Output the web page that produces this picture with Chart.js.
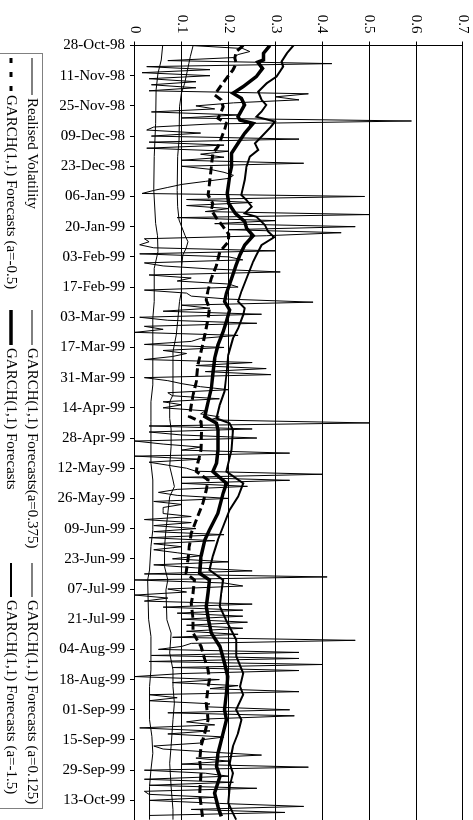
<!DOCTYPE html>
<html lang="en">
<head>
  <meta charset="UTF-8" />
  <title>Realised volatility vs GARCH(1,1) forecasts</title>
  <script src="https://cdn.jsdelivr.net/npm/chart.js"></script>
  <style>
    body { margin: 0; background: #fff; overflow: hidden; }
    #wrap { position: absolute; left: 0; top: 0; width: 820px; height: 473px;
            transform-origin: 0 0; transform: translateX(473px) rotate(90deg); }
    canvas { display: block; }
  </style>
</head>
<body>
  <div id="wrap"><canvas id="volChart" width="820" height="473" style="width:820px;height:473px"></canvas></div>

  <script>
    // date axis labels, one every 10 trading days
    const dateLabels = ['28-Oct-98','11-Nov-98','25-Nov-98','09-Dec-98','23-Dec-98','06-Jan-99','20-Jan-99',
      '03-Feb-99','17-Feb-99','03-Mar-99','17-Mar-99','31-Mar-99','14-Apr-99','28-Apr-99','12-May-99',
      '26-May-99','09-Jun-99','23-Jun-99','07-Jul-99','21-Jul-99','04-Aug-99','18-Aug-99','01-Sep-99',
      '15-Sep-99','29-Sep-99','13-Oct-99'];
    const labelDays = [0,10,20,30,40,50,60,70,80,90,100,110,120,130,140,150,160,170,180,190,200,210,220,230,240,250];
    const valueTicks = ['0','0.1','0.2','0.3','0.4','0.5','0.6','0.7'];

    // daily realised volatility (trading day 0 = 28-Oct-98)
    const realisedVol = [
      0.12,0.23,0.245,0.22,0.21,0.07,0.42,0.025,0.16,0.015,
      0.16,0.03,0.13,0.035,0.13,0.03,0.37,0.30,0.35,0.21,
      0.13,0.17,0.035,0.22,0.10,0.59,0.16,0.04,0.025,0.14,
      0.035,0.35,0.03,0.19,0.025,0.2,0.14,0.19,0.10,0.36,
      0.10,0.16,0.19,0.21,0.2,0.15,0.10,0.07,0.04,0.015,
      0.49,0.11,0.25,0.11,0.2,0.15,0.5,0.09,0.3,0.17,
      0.47,0.2,0.44,0.28,0.02,0.03,0.01,0.04,0.3,0.01,
      0.2,0.23,0.02,0.06,0.16,0.31,0.03,0.12,0.09,0.2,
      0.22,0.02,0.11,0.12,0.2,0.38,0.1,0.16,0.06,0.27,
      0.01,0.07,0.26,0.02,0.06,0.0,0.22,0.14,0.12,0.02,
      0.19,0.06,0.11,0.08,0.02,0.25,0.13,0.28,0.15,0.29,
      0.02,0.07,0.1,0.14,0.2,0.07,0.08,0.18,0.06,0.1,
      0.06,0.15,0.14,0.18,0.16,0.5,0.03,0.25,0.03,0.1,
      0.26,0.0,0.06,0.14,0.1,0.33,0.0,0.14,0.03,0.07,
      0.11,0.13,0.4,0.1,0.33,0.1,0.24,0.09,0.05,0.09,
      0.2,0.04,0.1,0.06,0.06,0.06,0.12,0.02,0.12,0.04,
      0.13,0.04,0.19,0.03,0.17,0.04,0.1,0.04,0.09,0.14,
      0.08,0.2,0.04,0.13,0.25,0.02,0.41,0.0,0.19,0.23,
      0.07,0.11,0.0,0.07,0.02,0.25,0.06,0.23,0.09,0.23,
      0.1,0.24,0.11,0.23,0.11,0.22,0.08,0.47,0.12,0.1,
      0.05,0.35,0.035,0.35,0.03,0.4,0.08,0.35,0.1,0.0,
      0.18,0.08,0.22,0.16,0.35,0.03,0.09,0.03,0.16,0.15,
      0.33,0.07,0.34,0.16,0.11,0.17,0.01,0.16,0.07,0.19,
      0.14,0.14,0.04,0.06,0.16,0.27,0.13,0.2,0.1,0.37,
      0.02,0.15,0.2,0.02,0.21,0.03,0.26,0.02,0.03,0.17,
      0.03,0.18,0.36,0.12,0.32,0.03
    ];

    // forecast series at the trading days given
    const garchDays = [0,2.6,4.8,5.5,7.6,10.3,13.6,15.8,17.5,19.7,23.6,24.7,25.8,29.1,32.4,35.7,40.1,42.3,48.9,52.3,
      55.6,58.3,60.5,63,66.1,69.4,72.7,77.1,82.1,84.8,87.6,91.4,94.8,99.2,103.6,109.1,113.5,118,122.9,125.1,127.3,
      133.9,138.3,141.1,145,148.3,154.9,160.4,163.7,169.2,174.8,177,181.4,185.8,190.2,194.6,199,204.5,209,214.5,220,
      223.3,227.7,234.4,238.8,242.1,247.6,252,255.3];
    const garch = [0.288,0.274,0.274,0.262,0.272,0.259,0.231,0.209,0.227,0.234,0.22,0.224,0.252,0.234,0.22,0.206,0.206,
      0.203,0.197,0.2,0.214,0.234,0.238,0.252,0.234,0.224,0.216,0.206,0.195,0.191,0.202,0.195,0.188,0.177,0.17,0.166,
      0.163,0.156,0.149,0.174,0.177,0.177,0.174,0.166,0.195,0.188,0.177,0.159,0.149,0.141,0.138,0.159,0.156,0.152,
      0.157,0.163,0.181,0.191,0.198,0.195,0.191,0.195,0.188,0.177,0.174,0.181,0.17,0.177,0.184];

    const garchAm15Days = [0,2.6,5.3,7,10.3,12.5,15.3,18,19.7,21.9,23.6,25.2,26.9,30.2,32.4,34.6,36.8,40.1,44.5,49.5,
      51.2,53.4,55.6,56.7,59.4,61.6,63.5,66.1,69.4,71.6,76,81.5,84.8,87,89.2,93.7,97,102.5,109.1,114.6,119,123.5,
      125.1,127.3,133.9,141.1,145,149.4,153.8,159.3,163.7,169.2,173.7,177,181.4,185.8,190.5,196.8,202.3,207.9,212.3,
      215,220,223.3,227.7,232.1,237.7,241,245.4,250.9,254.2,256.4];
    const garchAm15 = [0.338,0.324,0.313,0.316,0.302,0.281,0.263,0.27,0.28,0.27,0.259,0.299,0.29,0.27,0.256,0.263,
      0.245,0.238,0.234,0.227,0.238,0.249,0.234,0.259,0.277,0.284,0.297,0.27,0.259,0.252,0.241,0.227,0.22,0.234,
      0.231,0.22,0.209,0.199,0.195,0.191,0.181,0.174,0.202,0.209,0.206,0.195,0.231,0.22,0.202,0.188,0.177,0.166,
      0.159,0.188,0.184,0.181,0.195,0.216,0.216,0.231,0.224,0.231,0.216,0.227,0.22,0.209,0.202,0.209,0.202,0.199,
      0.209,0.216];

    const garchAm05Days = [0,2,4.2,5.9,8.1,10.9,14.7,16.4,18,20.3,23,24.1,25.8,28,33.5,35.7,40.1,45.6,49.5,52.3,54.5,
      57.2,60,62.5,65,68.3,72.7,77.1,81,84.3,87,90.3,95.9,101.4,105.8,111.3,115.7,122.9,124.6,127.3,133.9,138.3,
      141.1,143.9,147.2,151.6,157.1,161.5,165.9,170.3,174.8,177,181.4,184.7,190.2,194.6,199,203.4,206.8,210.1,212.3,
      217.8,223.3,227.7,232.1,236.6,241,247.6,252,256.4];
    const garchAm05 = [0.231,0.216,0.213,0.216,0.209,0.195,0.177,0.17,0.184,0.188,0.181,0.177,0.195,0.191,0.177,0.166,
      0.163,0.159,0.156,0.166,0.163,0.174,0.188,0.2,0.199,0.181,0.174,0.163,0.156,0.152,0.159,0.156,0.149,0.141,
      0.134,0.131,0.124,0.116,0.141,0.142,0.141,0.134,0.131,0.156,0.152,0.145,0.131,0.12,0.116,0.113,0.109,0.127,
      0.124,0.12,0.124,0.124,0.141,0.149,0.156,0.159,0.156,0.152,0.156,0.149,0.141,0.138,0.141,0.138,0.141,0.145];

    const garchA0125Days = [0,3.7,5.9,12.5,15.8,20.3,31.3,36.8,48,53.4,57.8,63,65,67.2,69.4,74,81.5,84.8,91.4,95.9,
      101.4,115.7,118,123.5,127,132.8,139.4,143.9,146.1,149.4,154.9,160.4,166,172.6,177,180.3,190.2,194.6,201.2,
      206.8,212.3,217.8,223.3,232.1,237.7,245.4,253.1,256.4];
    const garchA0125 = [0.124,0.118,0.115,0.106,0.099,0.095,0.094,0.091,0.09,0.091,0.094,0.107,0.113,0.109,0.102,
      0.099,0.099,0.095,0.091,0.088,0.081,0.081,0.074,0.074,0.077,0.077,0.074,0.081,0.084,0.074,0.07,0.066,0.063,
      0.063,0.07,0.066,0.068,0.077,0.074,0.081,0.081,0.084,0.081,0.077,0.074,0.077,0.081,0.081];

    const garchA0375Days = [0,4.8,9.2,14.7,25.8,36.8,47.8,58.9,63,68.3,73.8,84.8,90.3,112.4,118,124.6,138.3,143.9,
      160.4,165.9,173.7,177,190,195.7,206.8,212.3,223.3,228.8,234.4,239.9,245.4,256.4];
    const garchA0375 = [0.059,0.056,0.049,0.045,0.044,0.041,0.04,0.044,0.048,0.049,0.041,0.041,0.038,0.038,0.034,
      0.034,0.034,0.038,0.038,0.034,0.031,0.027,0.029,0.034,0.034,0.031,0.031,0.036,0.038,0.034,0.031,0.031];

    const FONT = 'Liberation Serif, Times New Roman, serif';
    const daily = arr => arr.map((v, i) => ({ x: i, y: v }));
    const pairs = (days, vals) => vals.map((v, i) => ({ x: days[i], y: v }));

    // legend drawn as a 3 x 2 grid like the original spreadsheet chart
    const gridLegend = {
      id: 'gridLegend',
      afterDraw(chart) {
        const ctx = chart.ctx;
        ctx.save();
        ctx.strokeStyle = '#808080';
        ctx.lineWidth = 1;
        ctx.strokeRect(53.5, 430.5, 755, 60);
        ctx.font = '15px ' + FONT;
        ctx.fillStyle = '#000';
        ctx.textBaseline = 'middle';
        const items = [
          { ds: 0, x: 58, y: 441, len: 37 },
          { ds: 1, x: 310, y: 441, len: 35 },
          { ds: 2, x: 563, y: 441, len: 34 },
          { ds: 3, x: 58, y: 462, len: 34, dash: [5, 9] },
          { ds: 4, x: 310, y: 462, len: 35 },
          { ds: 5, x: 563, y: 462, len: 34 }
        ];
        items.forEach(it => {
          const ds = chart.data.datasets[it.ds];
          ctx.beginPath();
          ctx.strokeStyle = '#000';
          ctx.lineWidth = ds.borderWidth;
          ctx.setLineDash(it.dash || []);
          ctx.moveTo(it.x, it.y);
          ctx.lineTo(it.x + it.len, it.y);
          ctx.stroke();
          ctx.fillText(ds.label, it.x + it.len + 3, it.y);
        });
        ctx.restore();
      }
    };

    const ctx = document.getElementById('volChart').getContext('2d');
    new Chart(ctx, {
      type: 'line',
      data: {
        datasets: [
          { label: 'Realised Volatility', data: daily(realisedVol), borderColor: '#000', borderWidth: 1 },
          { label: 'GARCH(1,1) Forecasts(a=0.375)', data: pairs(garchA0375Days, garchA0375), borderColor: '#000', borderWidth: 1 },
          { label: 'GARCH(1,1) Forecasts (a=0.125)', data: pairs(garchA0125Days, garchA0125), borderColor: '#000', borderWidth: 1 },
          { label: 'GARCH(1,1) Forecasts (a=-0.5)', data: pairs(garchAm05Days, garchAm05), borderColor: '#000', borderWidth: 3, borderDash: [8, 4] },
          { label: 'GARCH(1,1) Forecasts', data: pairs(garchDays, garch), borderColor: '#000', borderWidth: 3.5 },
          { label: 'GARCH(1,1) Forecasts (a=-1.5)', data: pairs(garchAm15Days, garchAm15), borderColor: '#000', borderWidth: 2 }
        ]
      },
      options: {
        responsive: false,
        animation: false,
        devicePixelRatio: 1,
        elements: { point: { radius: 0 }, line: { tension: 0 } },
        layout: { padding: { top: 10, left: 0, right: 0, bottom: 55 } },
        plugins: { legend: { display: false }, tooltip: { enabled: false } },
        scales: {
          x: {
            type: 'linear',
            min: 0,
            max: 256.5,
            afterBuildTicks: s => { s.ticks = labelDays.map(v => ({ value: v })); },
            afterFit: s => { s.height = 80; s.paddingLeft = 0; s.paddingRight = 0; },
            grid: { drawOnChartArea: false, color: '#000', tickLength: 5 },
            border: { color: '#000', width: 1 },
            ticks: {
              autoSkip: false, minRotation: 90, maxRotation: 90, padding: 5,
              color: '#000', font: { family: FONT, size: 15 },
              callback: v => dateLabels[labelDays.indexOf(v)]
            }
          },
          y: {
            min: 0,
            max: 0.7,
            afterBuildTicks: s => { s.ticks = valueTicks.map((t, i) => ({ value: i / 10 })); },
            afterFit: s => { s.width = 45.5; s.paddingTop = 0; s.paddingBottom = 0; },
            grid: { color: '#000', lineWidth: 1, tickLength: 4 },
            border: { color: '#000', width: 1 },
            ticks: {
              padding: 8, color: '#000', font: { family: FONT, size: 15 },
              callback: (v, i) => valueTicks[i]
            }
          }
        }
      },
      plugins: [gridLegend]
    });
  </script>
</body>
</html>
